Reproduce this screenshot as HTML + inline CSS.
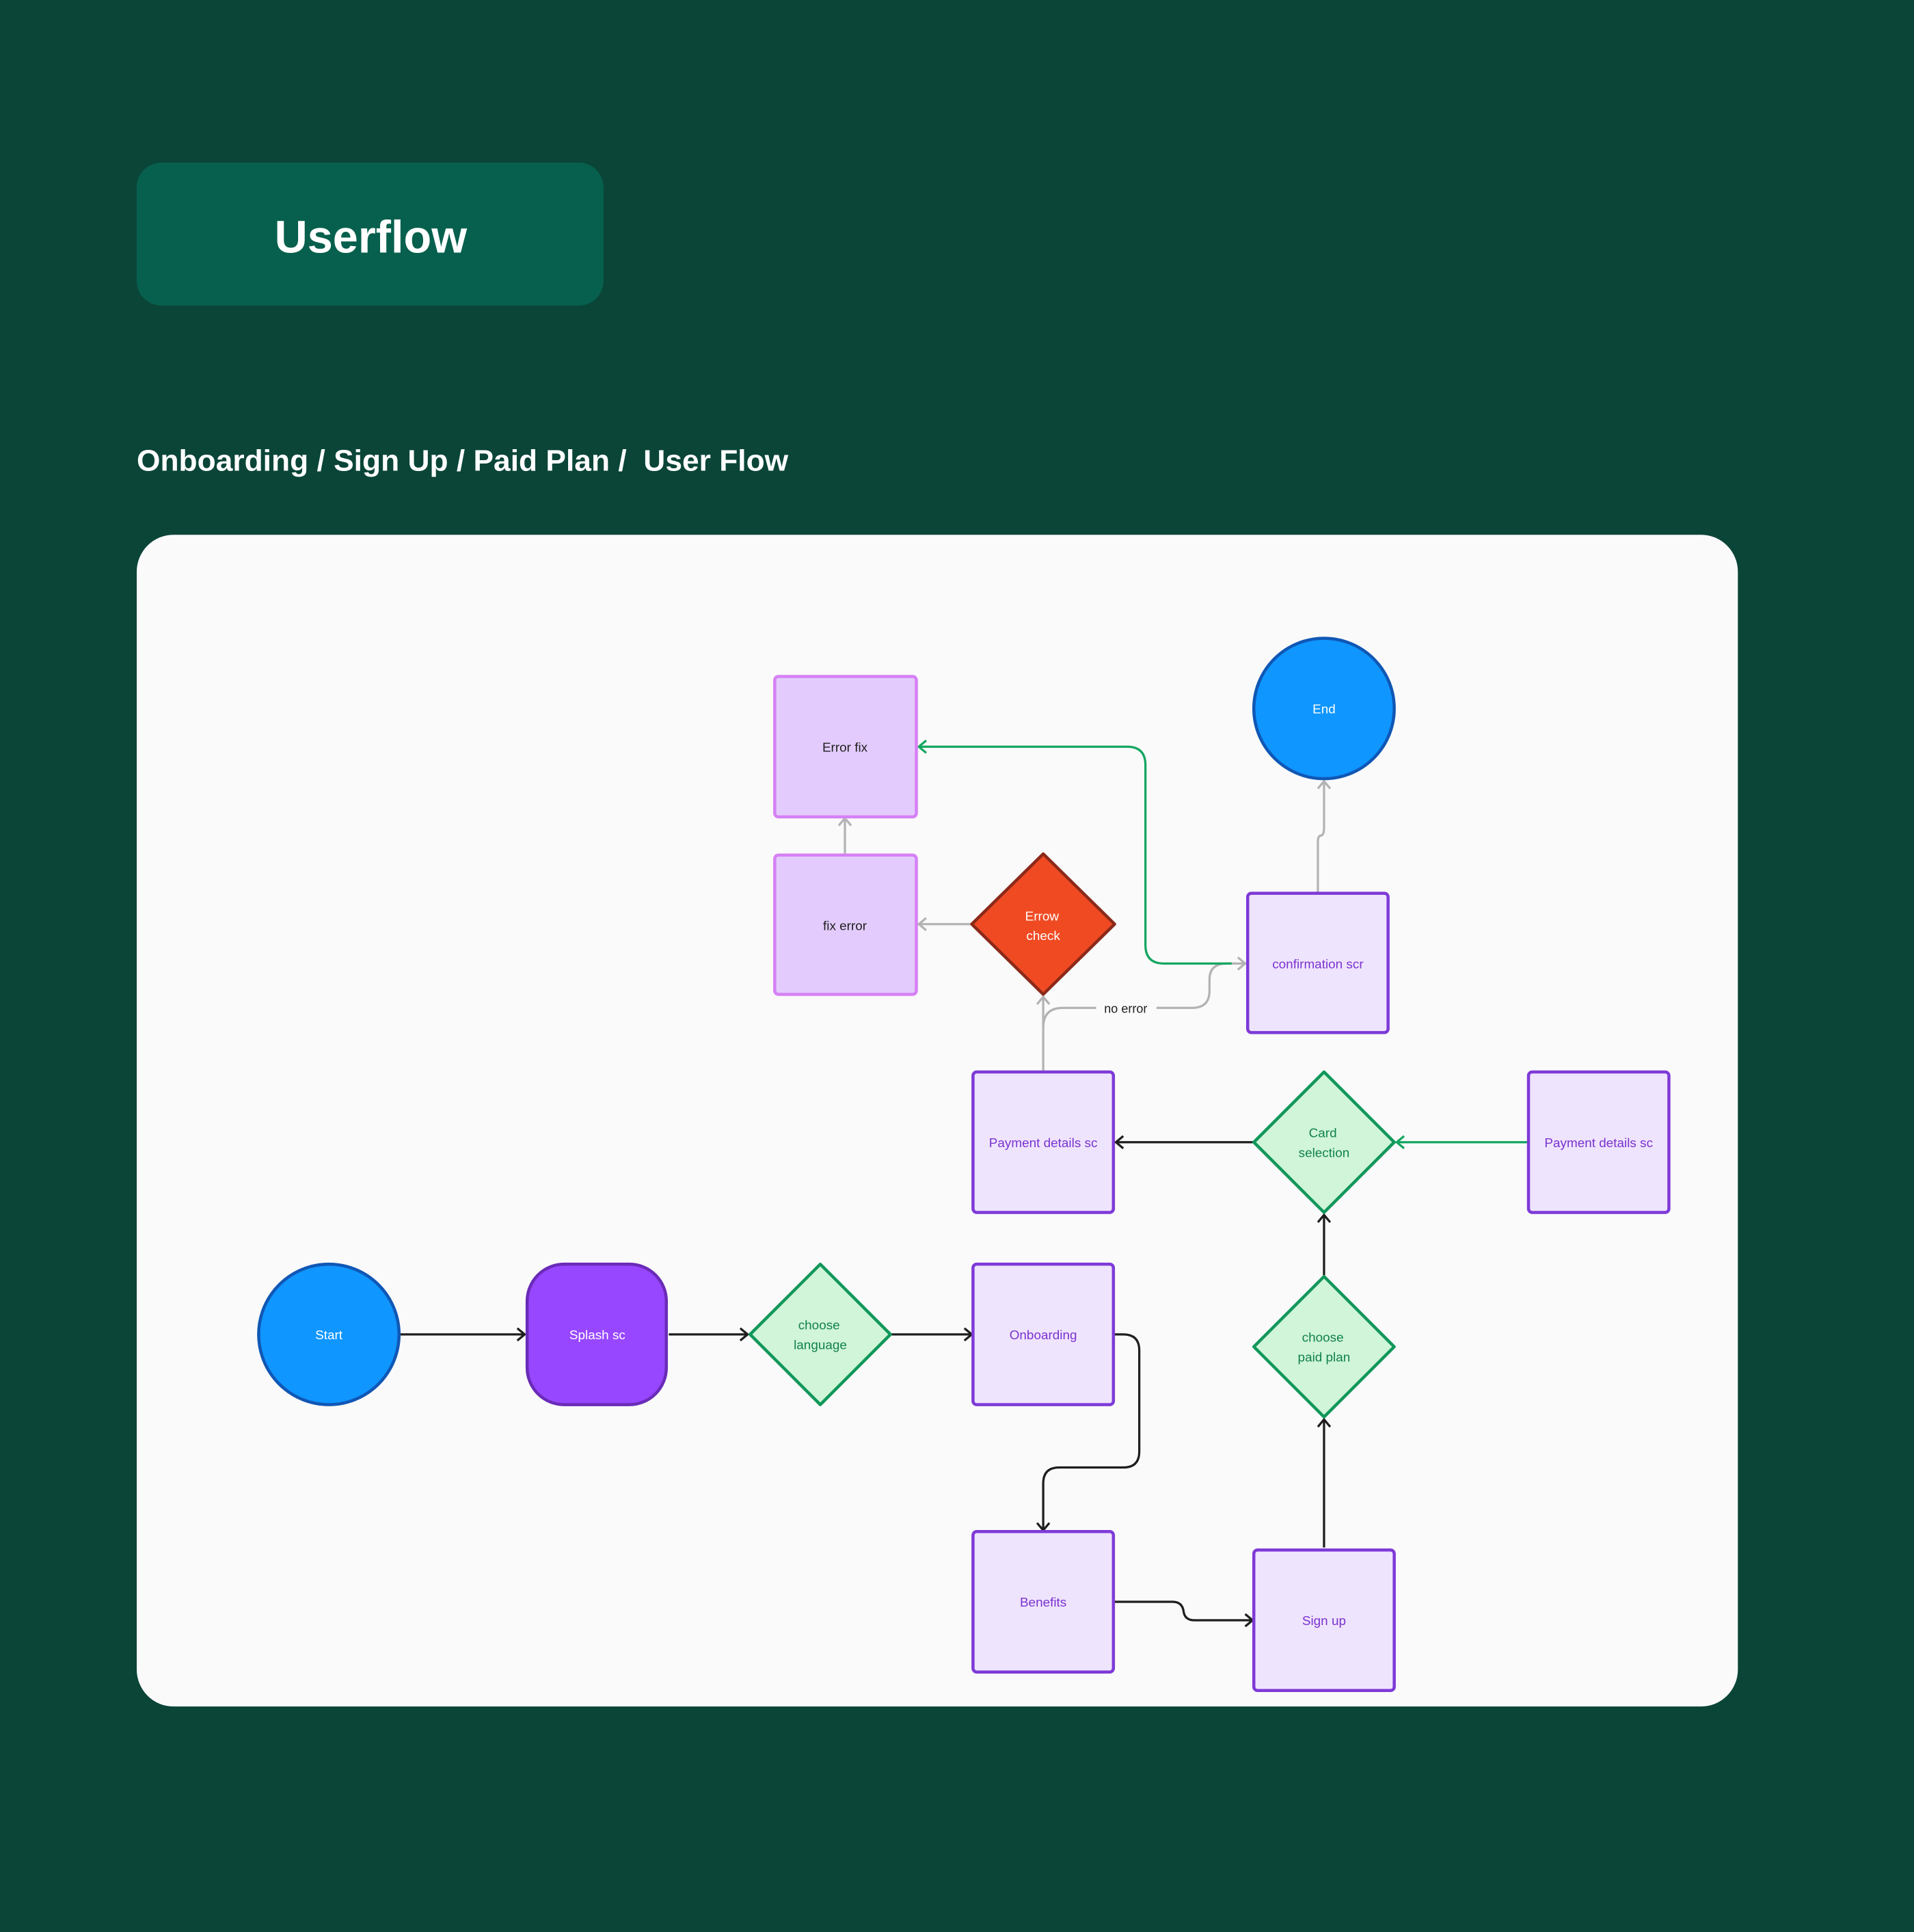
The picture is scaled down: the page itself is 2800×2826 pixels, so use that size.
<!DOCTYPE html>
<html><head><style>html,body{margin:0;padding:0;background:#0a4538}svg{display:block}</style></head>
<body>
<svg width="2800" height="2826" viewBox="0 0 1554 1568" preserveAspectRatio="none" xmlns="http://www.w3.org/2000/svg" font-family="Liberation Sans, sans-serif">
<defs>
<marker id="ak" markerWidth="12" markerHeight="12" refX="9" refY="6" orient="auto" markerUnits="userSpaceOnUse"><path d="M3,1 L9,6 L3,11" fill="none" stroke="#1e1e1e" stroke-width="1.8"/></marker>
<marker id="ag" markerWidth="12" markerHeight="12" refX="9" refY="6" orient="auto" markerUnits="userSpaceOnUse"><path d="M3,1 L9,6 L3,11" fill="none" stroke="#b3b3b3" stroke-width="1.8"/></marker>
<marker id="agr" markerWidth="12" markerHeight="12" refX="9" refY="6" orient="auto" markerUnits="userSpaceOnUse"><path d="M3,1 L9,6 L3,11" fill="none" stroke="#14a660" stroke-width="1.8"/></marker>
</defs>
<rect width="1554" height="1568" fill="#0a4538"/>
<rect x="111" y="132" width="379" height="116" rx="20" fill="#06604d"/>
<text x="301" y="205" text-anchor="middle" font-size="37" font-weight="bold" fill="#fff">Userflow</text>
<text x="111" y="382" font-size="24" font-weight="bold" fill="#fff" xml:space="preserve" textLength="529" lengthAdjust="spacingAndGlyphs">Onboarding / Sign Up / Paid Plan /  User Flow</text>
<rect x="111" y="434" width="1300" height="951" rx="30" fill="#fafafa"/>

<g fill="none" stroke-width="1.8">
<path d="M325,1083 H426" stroke="#1e1e1e" marker-end="url(#ak)"/>
<path d="M543,1083 H607" stroke="#1e1e1e" marker-end="url(#ak)"/>
<path d="M724,1083 H789" stroke="#1e1e1e" marker-end="url(#ak)"/>
<path d="M905,1083 H912 Q925,1083 925,1096 V1178 Q925,1191 912,1191 H860 Q847,1191 847,1204 V1242" stroke="#1e1e1e" marker-end="url(#ak)"/>
<path d="M905,1300 H952 Q960,1300 961,1308 Q962,1315 970,1315 H1017" stroke="#1e1e1e" marker-end="url(#ak)"/>
<path d="M1075,1256 V1152" stroke="#1e1e1e" marker-end="url(#ak)"/>
<path d="M1075,1035 V986" stroke="#1e1e1e" marker-end="url(#ak)"/>
<path d="M1017,927 H906" stroke="#1e1e1e" marker-end="url(#ak)"/>
<path d="M1240,927 H1134" stroke="#14a660" marker-end="url(#agr)"/>
<path d="M847,869 V809" stroke="#b3b3b3" marker-end="url(#ag)"/>
<path d="M847,834 Q847,818 863,818 H890 M939,818 H968 Q982,818 982,804 V795 Q982,782 996,782 H1011" stroke="#b3b3b3" marker-end="url(#ag)"/>
<path d="M1000,782 H945 Q930,782 930,767 V621 Q930,606 915,606 H746" stroke="#14a660" marker-end="url(#agr)"/>
<path d="M789,750 H746" stroke="#b3b3b3" marker-end="url(#ag)"/>
<path d="M686,693 V664" stroke="#b3b3b3" marker-end="url(#ag)"/>
<path d="M1070,724 V683 Q1070,678 1073,678 Q1075,677 1075,672 V634" stroke="#b3b3b3" marker-end="url(#ag)"/>
</g>
<text x="914" y="822" text-anchor="middle" font-size="10" fill="#1e1e1e">no error</text>

<g stroke-width="2.5">
<rect x="629" y="549" width="115" height="114" rx="3" fill="#e3ccfd" stroke="#d680f5"/>
<rect x="629" y="694" width="115" height="113" rx="3" fill="#e3ccfd" stroke="#d680f5"/>
<path d="M847,693 L905,750 L847,807 L789,750 Z" fill="#f04a23" stroke="#8b2a1a" stroke-linejoin="round"/>
<circle cx="1075" cy="575" r="57" fill="#0f96ff" stroke="#1057b5"/>
<rect x="1013" y="725" width="114" height="113" rx="3" fill="#efe4fd" stroke="#7e3ad8"/>
<rect x="790" y="870" width="114" height="114" rx="3" fill="#efe4fd" stroke="#7e3ad8"/>
<path d="M1075,870 L1132,927 L1075,984 L1018,927 Z" fill="#d0f5d8" stroke="#11975a" stroke-linejoin="round"/>
<rect x="1241" y="870" width="114" height="114" rx="3" fill="#efe4fd" stroke="#7e3ad8"/>
<circle cx="267" cy="1083" r="57" fill="#0f96ff" stroke="#1057b5"/>
<rect x="428" y="1026" width="113" height="114" rx="30" fill="#9747ff" stroke="#6a2bb8"/>
<path d="M666,1026 L723,1083 L666,1140 L609,1083 Z" fill="#d0f5d8" stroke="#11975a" stroke-linejoin="round"/>
<rect x="790" y="1026" width="114" height="114" rx="3" fill="#efe4fd" stroke="#7e3ad8"/>
<path d="M1075,1036 L1132,1093 L1075,1150 L1018,1093 Z" fill="#d0f5d8" stroke="#11975a" stroke-linejoin="round"/>
<rect x="790" y="1243" width="114" height="114" rx="3" fill="#efe4fd" stroke="#7e3ad8"/>
<rect x="1018" y="1258" width="114" height="114" rx="3" fill="#efe4fd" stroke="#7e3ad8"/>
</g>

<g font-size="10.5" text-anchor="middle">
<text x="686" y="610" fill="#1e1e1e">Error fix</text>
<text x="686" y="755" fill="#1e1e1e">fix error</text>
<text x="846" y="747" fill="#fff">Errow</text>
<text x="847" y="763" fill="#fff">check</text>
<text x="1075" y="579" fill="#fff">End</text>
<text x="1070" y="786" fill="#7a33d0">confirmation scr</text>
<text x="847" y="931" fill="#7a33d0">Payment details sc</text>
<text x="1074" y="923" fill="#11814d">Card</text>
<text x="1075" y="939" fill="#11814d">selection</text>
<text x="1298" y="931" fill="#7a33d0">Payment details sc</text>
<text x="267" y="1087" fill="#fff">Start</text>
<text x="485" y="1087" fill="#fff">Splash sc</text>
<text x="665" y="1079" fill="#11814d">choose</text>
<text x="666" y="1095" fill="#11814d">language</text>
<text x="847" y="1087" fill="#7a33d0">Onboarding</text>
<text x="1074" y="1089" fill="#11814d">choose</text>
<text x="1075" y="1105" fill="#11814d">paid plan</text>
<text x="847" y="1304" fill="#7a33d0">Benefits</text>
<text x="1075" y="1319" fill="#7a33d0">Sign up</text>
</g>
</svg>
</body></html>
